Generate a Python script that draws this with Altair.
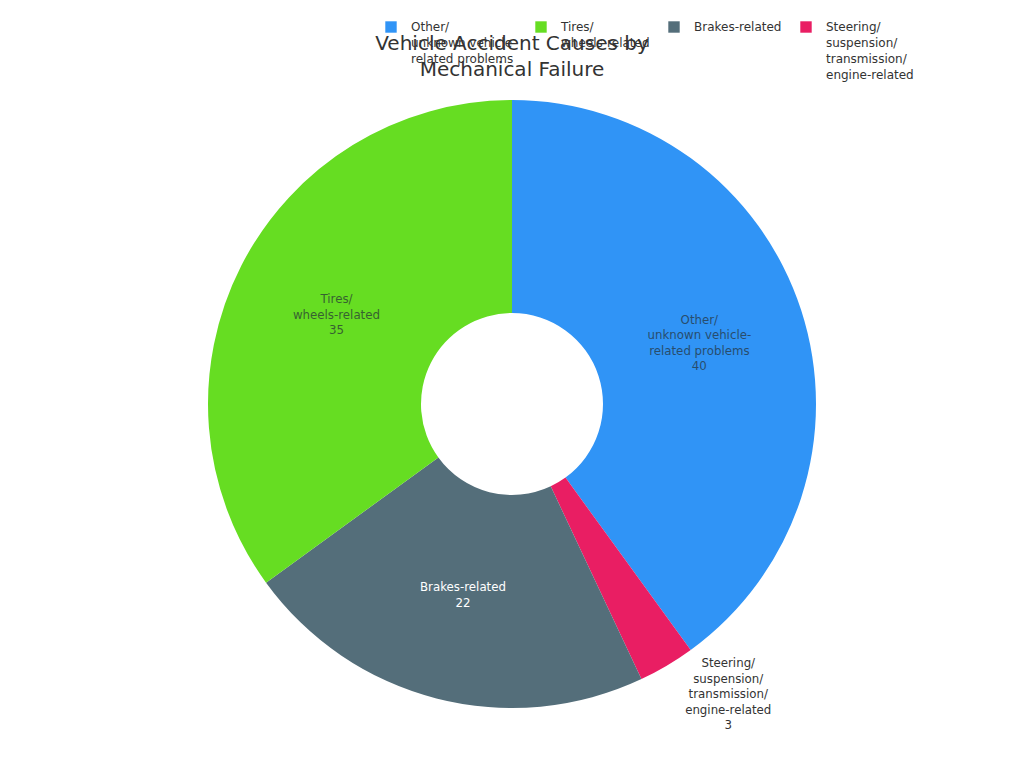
import altair as alt
import pandas as pd

# slices, clockwise from 12 o'clock
causes = [
    "Other/\nunknown vehicle-\nrelated problems",
    "Steering/\nsuspension/\ntransmission/\nengine-related",
    "Brakes-related",
    "Tires/\nwheels-related",
]
counts = [40, 3, 22, 35]
colors = ["#3094f6", "#e91e63", "#546e7a", "#66dd22"]
outside_label = [False, True, False, False]

# legend shows them in another order
legend_order = [causes[0], causes[3], causes[2], causes[1]]
legend_colors = [colors[0], colors[3], colors[2], colors[1]]

LINE_H = 15.5
max_lines = max(c.count("\n") + 1 for c in causes)

df = pd.DataFrame({
    "cause": causes,
    "count": counts,
    "slice": list(range(len(causes))),
})

base = alt.Chart(df).encode(
    theta=alt.Theta("count:Q", stack=True),
    order=alt.Order("slice:O"),
)

# pad legend labels to the same number of lines so the entries line up at the top
pad = "\\n" * (max_lines - 1)
legend_label = f"slice(split(datum.label + '{pad}', '\\n'), 0, {max_lines})"

arcs = base.mark_arc(outerRadius=304, innerRadius=91).encode(
    color=alt.Color(
        "cause:N",
        scale=alt.Scale(domain=legend_order, range=legend_colors),
        legend=alt.Legend(
            title=None,
            orient="none",
            legendX=377,
            legendY=-47,
            direction="horizontal",
            columns=4,
            columnPadding=18,
            padding=0,
            symbolType="square",
            symbolSize=130,
            symbolStrokeWidth=0,
            labelOffset=14,
            labelFontSize=12,
            labelFont="DejaVu Sans",
            labelColor="#333333",
            labelLimit=200,
            labelBaseline="middle",
            labelExpr=legend_label,
        ),
    )
)


def slice_label(i):
    # one text layer per slice so the block of lines can be centred on its anchor
    n_lines = causes[i].count("\n") + 2
    shift = -(n_lines - 1) * LINE_H / 2
    txt = base.transform_calculate(
        txt=f"datum.slice == {i} ? split(datum.cause + '\\n' + datum.count, '\\n') : ''"
    )
    if outside_label[i]:
        return txt.mark_text(
            radius=358, dx=34, dy=-18 + shift, fontSize=11.8, font="DejaVu Sans",
            lineHeight=LINE_H, baseline="middle", color="#333333"
        ).encode(text="txt:N")
    dark = causes[i] != "Brakes-related"
    return txt.mark_text(
        radius=197, dy=shift, fontSize=11.8, font="DejaVu Sans", lineHeight=LINE_H,
        baseline="middle", color="#263238" if dark else "#ffffff",
        opacity=0.72 if dark else 1.0
    ).encode(text="txt:N")


labels = [slice_label(i) for i in range(len(causes))]

chart = alt.layer(arcs, *labels).properties(
    width=1008,
    height=672,
    padding={"left": 0, "top": 60, "right": 0, "bottom": 20},
    autosize=alt.AutoSizeParams(type="none"),
    title=alt.TitleParams(
        ["Vehicle Accident Causes by", "Mechanical Failure"],
        fontSize=20,
        font="DejaVu Sans",
        fontWeight="normal",
        color="#333333",
        anchor="middle",
        lineHeight=26,
        offset=-59,
    ),
).configure_view(
    stroke=None
).configure(
    style={"guide-label": {"lineHeight": 16}}
)

chart.save("out.html", embed_options={"renderer": "svg", "actions": False})
